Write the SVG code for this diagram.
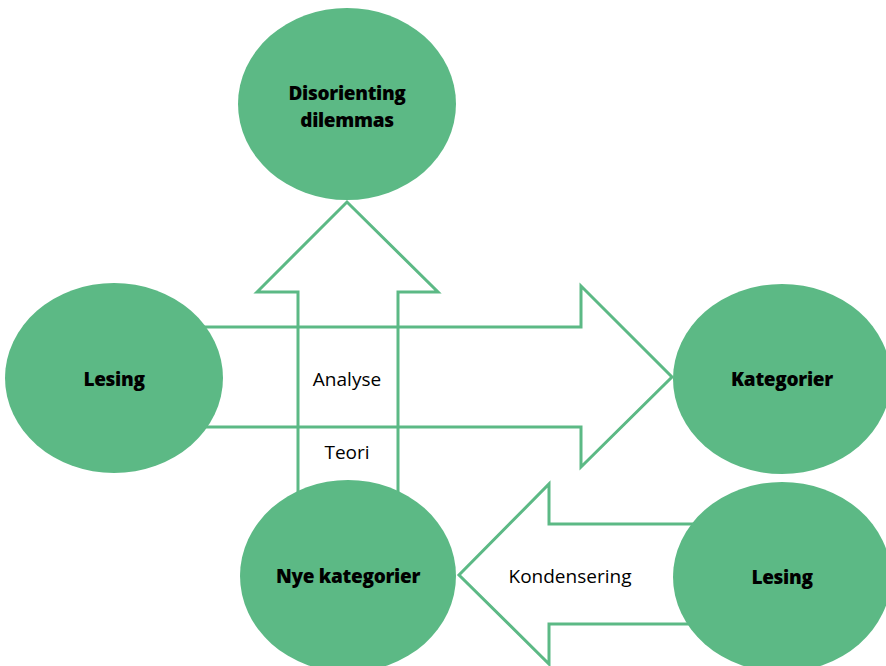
<svg xmlns="http://www.w3.org/2000/svg" width="886" height="666" viewBox="0 0 886 666">
<style>
.arrow{fill:none;stroke:#5cb985;stroke-width:3;stroke-linejoin:miter}
.node ellipse{fill:#5cb985}
.nl{font-family:"Open Sans","Noto Sans",sans-serif;font-weight:800;font-size:19px;fill:#000;text-anchor:middle;letter-spacing:-0.3px}
.el{font-family:"Open Sans","Noto Sans",sans-serif;font-size:19px;fill:#000;text-anchor:middle}
</style>
<rect width="886" height="666" fill="#fff"/>
<g id="connectors">
<polygon class="arrow" points="298,500 298,292 257,292 347,202 438,292 398,292 398,500"/>
<polygon class="arrow" points="150,327 581,327 581,286 672,377 581,467 581,427 150,427"/>
<polygon class="arrow" points="720,524 549,524 549,484 459,575 549,664 549,624 720,624"/>
<text class="el" x="347" y="386">Analyse</text>
<text class="el" x="347" y="459">Teori</text>
<text class="el" x="570" y="583">Kondensering</text>
</g>
<g id="node-disorienting" class="node">
<ellipse cx="347" cy="104" rx="109" ry="96"/>
<text class="nl" x="347" y="100">Disorienting</text>
<text class="nl" x="347" y="127">dilemmas</text>
</g>
<g id="node-lesing1" class="node">
<ellipse cx="114" cy="378" rx="109" ry="95"/>
<text class="nl" x="114" y="386">Lesing</text>
</g>
<g id="node-kategorier" class="node">
<ellipse cx="782" cy="379" rx="109" ry="95"/>
<text class="nl" x="782" y="386">Kategorier</text>
</g>
<g id="node-nye" class="node">
<ellipse cx="348" cy="576" rx="108" ry="96"/>
<text class="nl" x="348" y="583">Nye kategorier</text>
</g>
<g id="node-lesing2" class="node">
<ellipse cx="782" cy="577" rx="109" ry="95"/>
<text class="nl" x="782" y="584">Lesing</text>
</g>
</svg>
